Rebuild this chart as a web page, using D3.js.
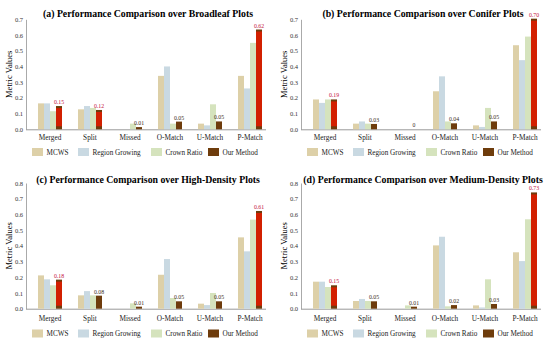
<!DOCTYPE html>
<html>
<head>
<meta charset="utf-8">
<script src="https://cdn.jsdelivr.net/npm/d3@7"></script>
<style>
  body { margin: 0; background: #fff; }
  text { font-family: "Liberation Serif", "DejaVu Serif", serif; }
</style>
</head>
<body>
<svg id="chart" width="550" height="344"></svg>
<script>
const categories = ["Merged", "Split", "Missed", "O-Match", "U-Match", "P-Match"]
const methods = ["MCWS", "Region Growing", "Crown Ratio", "Our Method"]
const colors = ["#ddd0a8", "#c9d9e2", "#d5e3bd", "#6e3c0c"]
const red = "#d22000"

const titles = [
    "(a) Performance Comparison over Broadleaf Plots",
    "(b) Performance Comparison over Conifer Plots",
    "(c) Performance Comparison over High-Density Plots",
    "(d) Performance Comparison over Medium-Density Plots"
]

// values per method, one row per method, in category order
const broadleaf = [
    [0.165, 0.127, 0, 0.34, 0.036, 0.34],
    [0.165, 0.148, 0, 0.40, 0.025, 0.26],
    [0.115, 0.136, 0.036, 0.036, 0.159, 0.55],
    [0.148, 0.123, 0.014, 0.049, 0.05, 0.635]
]
const broadleaf_labels = ["0.15", "0.12", "0.01", "0.05", "0.05", "0.62"]

const conifer = [
    [0.19, 0.036, 0, 0.242, 0.025, 0.535],
    [0.168, 0.05, 0, 0.337, 0.015, 0.44],
    [0.19, 0.036, 0, 0.05, 0.136, 0.59],
    [0.19, 0.034, 0, 0.038, 0.05, 0.704]
]
const conifer_labels = ["0.19", "0.03", "0", "0.04", "0.05", "0.70"]

const high_density = [
    [0.212, 0.085, 0, 0.216, 0.032, 0.454],
    [0.187, 0.112, 0, 0.316, 0.023, 0.365],
    [0.149, 0.085, 0.034, 0.068, 0.1, 0.567],
    [0.185, 0.083, 0.013, 0.047, 0.047, 0.622]
]
const high_density_labels = ["0.18", "0.08", "0.01", "0.05", "0.05", "0.61"]

const medium_density = [
    [0.172, 0.049, 0, 0.403, 0.021, 0.359],
    [0.172, 0.062, 0, 0.458, 0.008, 0.303],
    [0.138, 0.049, 0.021, 0.015, 0.187, 0.569],
    [0.149, 0.047, 0.013, 0.023, 0.03, 0.74]
]
const medium_density_labels = ["0.15", "0.05", "0.01", "0.02", "0.03", "0.73"]

const ticks_07 = [0, 0.1, 0.2, 0.3, 0.4, 0.5, 0.6, 0.7]
const ticks_08 = [0, 0.1, 0.2, 0.3, 0.4, 0.5, 0.6, 0.7, 0.8]

const panels = [
    { ox: 0, oy: 0, title: titles[0], data: broadleaf, labels: broadleaf_labels, ticks: ticks_07, base: 129.3, top: 19.3, titleY: 17, catY: 140, legY: 152 },
    { ox: 275, oy: 0, title: titles[1], data: conifer, labels: conifer_labels, ticks: ticks_07, base: 129.3, top: 19.3, titleY: 17, catY: 140, legY: 152 },
    { ox: 0, oy: 172, title: titles[2], data: high_density, labels: high_density_labels, ticks: ticks_08, base: 136.7, top: 11, titleY: 11, catY: 149, legY: 161.5 },
    { ox: 275, oy: 172, title: titles[3], data: medium_density, labels: medium_density_labels, ticks: ticks_08, base: 136.7, top: 11, titleY: 11, catY: 149, legY: 161.5 }
]

const svg = d3.select("#chart")

panels.forEach(p => draw_panel(p))

function draw_panel(p) {
    const g = svg.append("g").attr("transform", "translate(" + p.ox + "," + p.oy + ")")
    const ymax = p.ticks[p.ticks.length - 1]

    const yScale = d3.scaleLinear().domain([0, ymax]).range([p.base, p.top])
    const xScale = d3.scaleBand().domain(categories).range([30, 270]).paddingInner(0.4).paddingOuter(0.2)
    const inner = d3.scaleBand().domain(methods).range([0, xScale.bandwidth()])

    g.append("text")
        .attr("x", 148)
        .attr("y", p.titleY)
        .attr("text-anchor", "middle")
        .attr("font-weight", "bold")
        .attr("font-size", 9.8)
        .text(p.title)

    g.append("text")
        .attr("transform", "translate(12," + ((p.base + p.top) / 2) + ") rotate(-90)")
        .attr("text-anchor", "middle")
        .attr("font-size", 8.5)
        .text("Metric Values")

    // y axis
    const yAxis = g.append("g")
        .attr("transform", "translate(26,0)")
        .call(d3.axisLeft(yScale).tickValues(p.ticks).tickFormat(d3.format(".1f")).tickSize(0).tickPadding(3))
    yAxis.select(".domain").attr("stroke", "#aaa")
    yAxis.selectAll("text").attr("font-size", 6.5).attr("font-family", "Liberation Serif").attr("fill", "#333")

    // x axis
    const xAxis = g.append("g")
        .attr("transform", "translate(0," + p.base + ")")
        .call(d3.axisBottom(xScale).tickSize(0).tickPadding(0))
    xAxis.select(".domain").attr("stroke", "#999").attr("d", "M26,0.5H266")
    xAxis.selectAll("text")
        .attr("y", p.catY - p.base)
        .attr("dy", 0)
        .attr("font-size", 7.3)
        .attr("font-family", "Liberation Serif")
        .attr("fill", "#222")

    // bars
    methods.forEach((m, mi) => {
        const rows = categories.map((c, ci) => ({ cat: c, value: p.data[mi][ci], label: p.labels[ci] }))
        g.append("g").selectAll("rect")
            .data(rows)
            .join("rect")
            .attr("x", d => xScale(d.cat) + inner(m))
            .attr("y", d => yScale(d.value))
            .attr("width", inner.bandwidth())
            .attr("height", d => yScale(0) - yScale(d.value))
            .attr("fill", colors[mi])

        if (mi == 3) {
            // tall bars of our method get a red body
            g.append("g").selectAll("rect")
                .data(rows.filter(d => d.value >= 0.1))
                .join("rect")
                .attr("x", d => xScale(d.cat) + inner(m))
                .attr("y", d => yScale(d.value) + 2)
                .attr("width", inner.bandwidth())
                .attr("height", d => yScale(0) - yScale(d.value) - 5)
                .attr("fill", red)

            g.append("g").selectAll("text")
                .data(rows)
                .join("text")
                .attr("x", d => xScale(d.cat) + inner(m) + inner.bandwidth() / 2)
                .attr("y", d => yScale(d.value) - 2)
                .attr("text-anchor", "middle")
                .attr("font-size", 5.8)
                .attr("fill", d => d.value >= 0.1 ? "#c4123c" : "#3a2a20")
                .text(d => d.label)
        }
    })

    // legend
    const legX = [32, 78, 151, 208]
    const leg = g.append("g")
    methods.forEach((m, mi) => {
        leg.append("rect")
            .attr("x", legX[mi])
            .attr("y", p.legY - 4)
            .attr("width", 11)
            .attr("height", 8)
            .attr("fill", colors[mi])
        leg.append("text")
            .attr("x", legX[mi] + 14.5)
            .attr("y", p.legY + 2.5)
            .attr("font-size", 7.2)
            .attr("fill", "#222")
            .text(m)
    })
}
</script>
</body>
</html>
